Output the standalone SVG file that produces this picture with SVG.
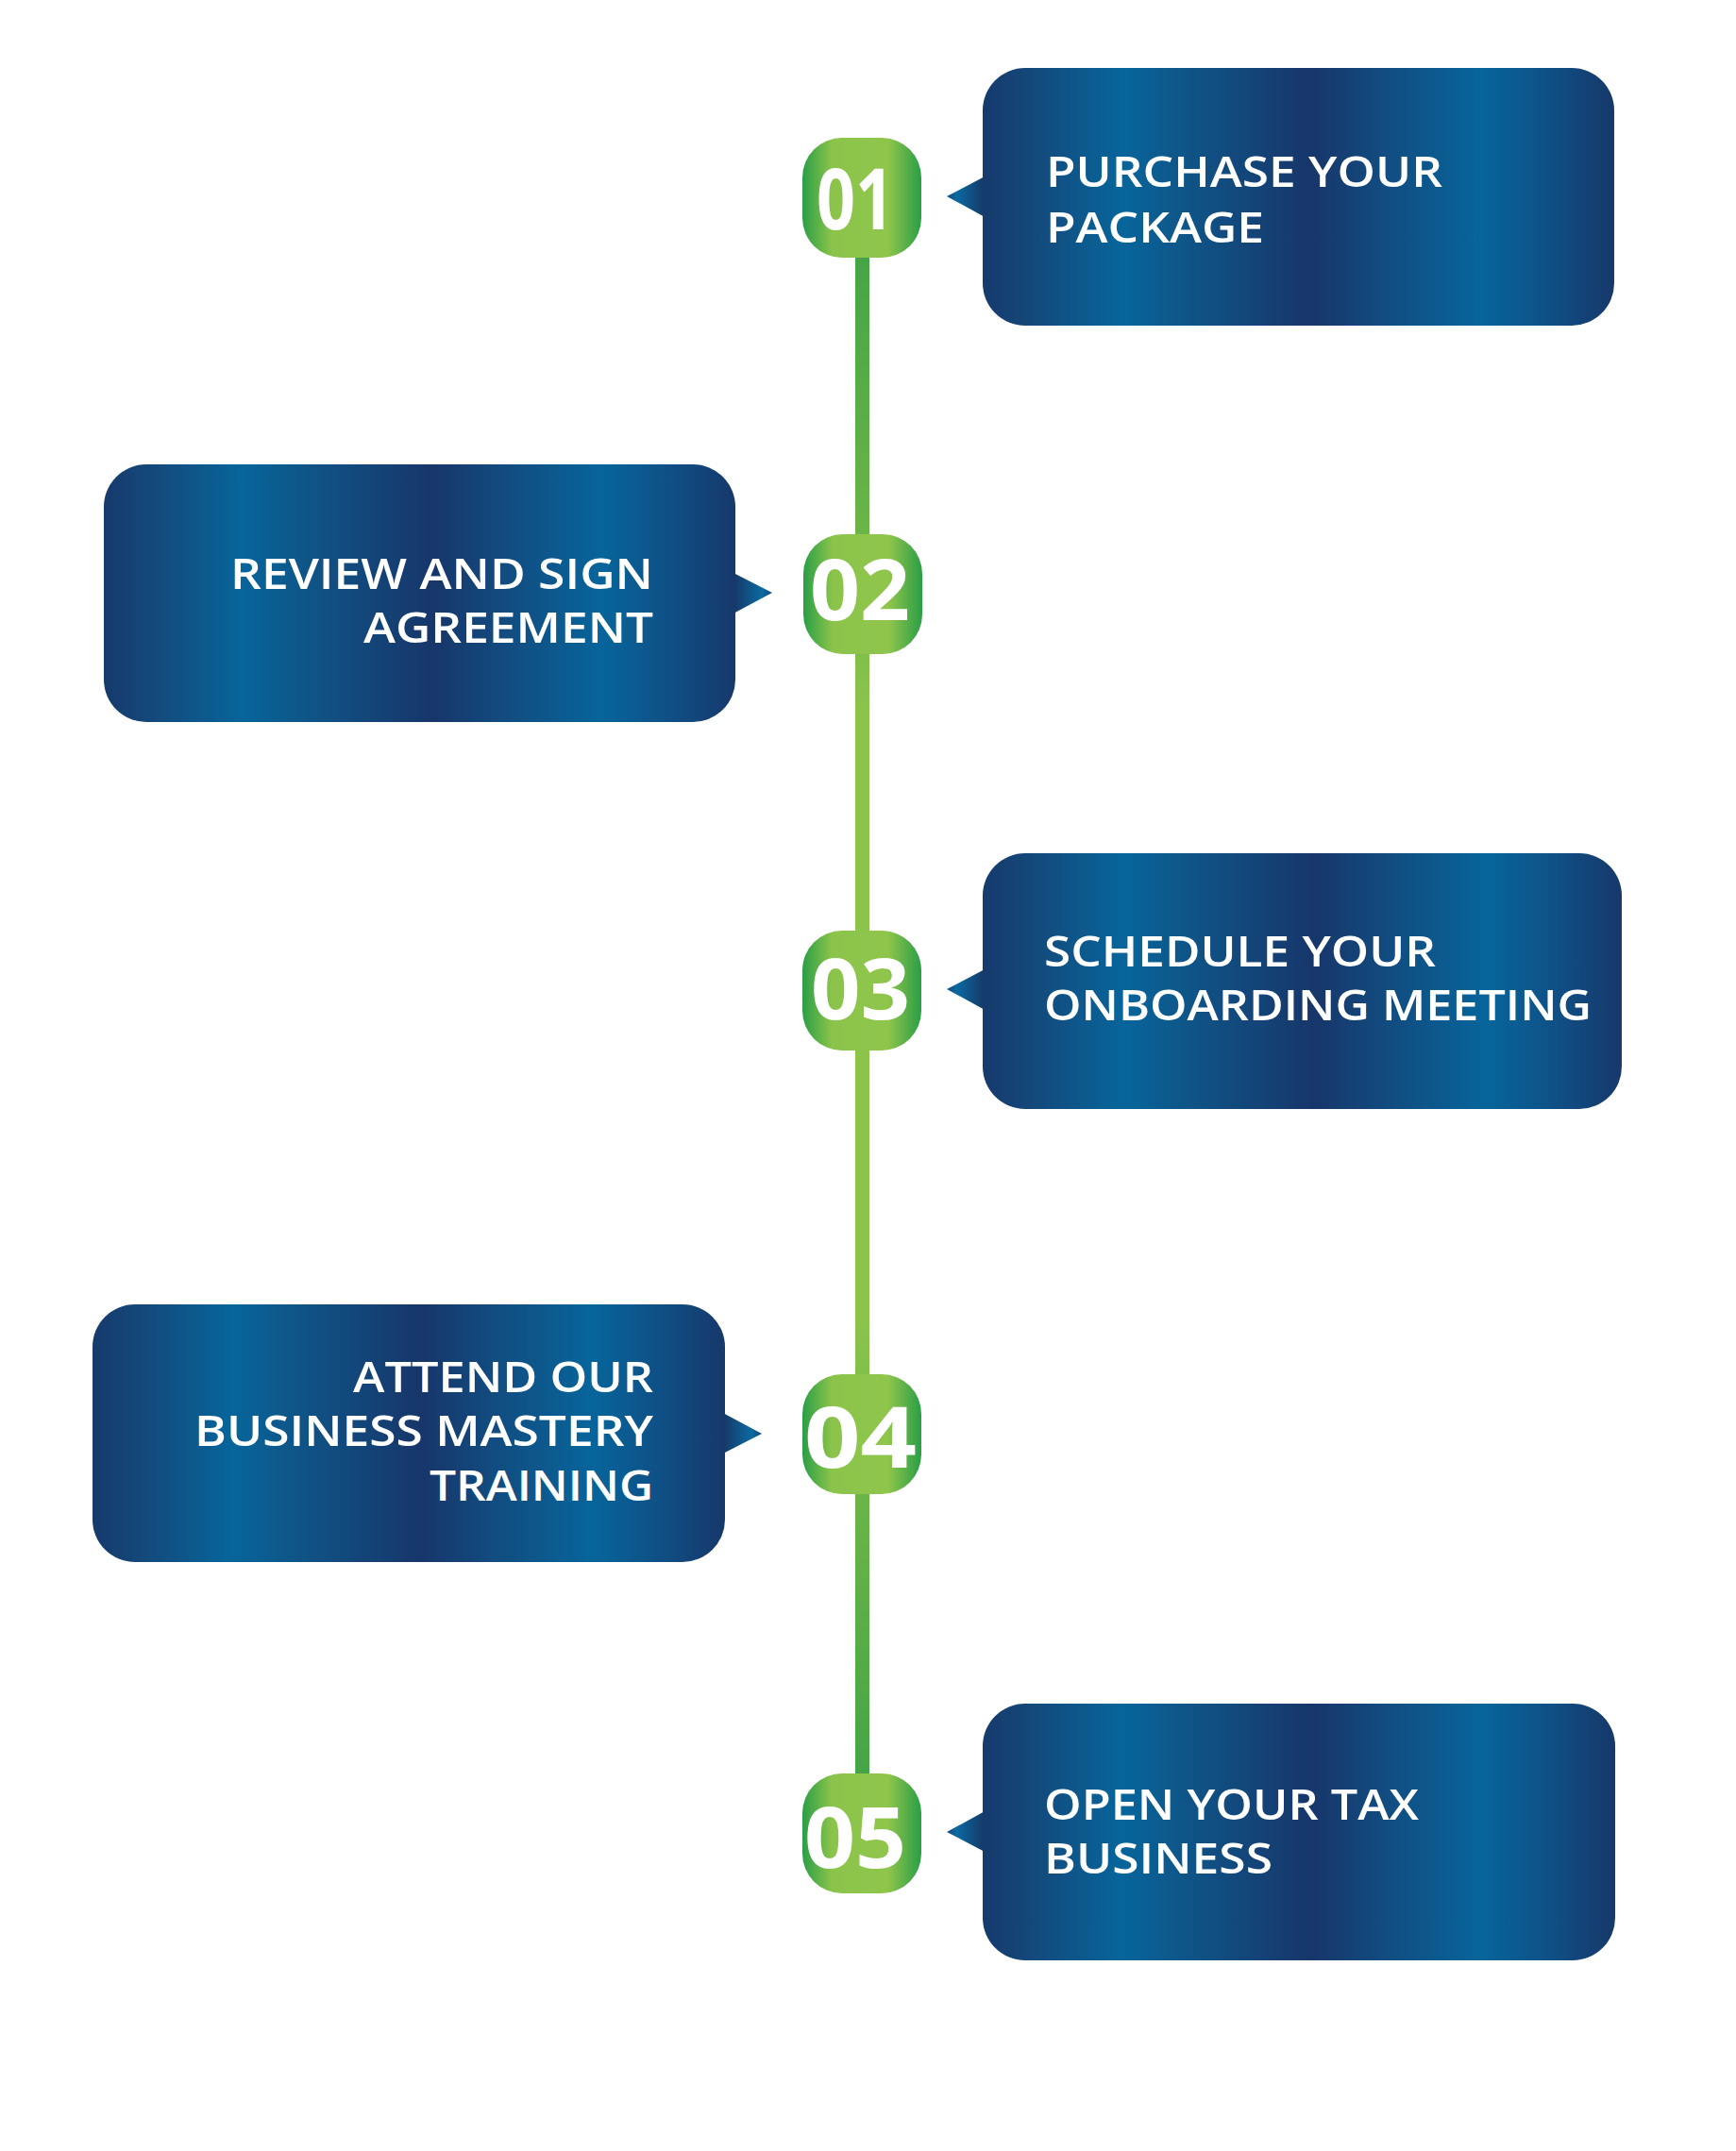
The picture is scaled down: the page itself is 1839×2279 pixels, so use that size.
<svg xmlns="http://www.w3.org/2000/svg" width="1839" height="2279" viewBox="0 0 1839 2279">
<defs>
<linearGradient id="boxGrad" x1="0" y1="0" x2="1" y2="0">
<stop offset="0" stop-color="#163a6c"/>
<stop offset="0.08" stop-color="#14497b"/>
<stop offset="0.22" stop-color="#07659b"/>
<stop offset="0.32" stop-color="#0f5588"/>
<stop offset="0.52" stop-color="#17366a"/>
<stop offset="0.63" stop-color="#124b7f"/>
<stop offset="0.79" stop-color="#07659b"/>
<stop offset="0.9" stop-color="#0f4f85"/>
<stop offset="1" stop-color="#17386a"/>
</linearGradient>
<linearGradient id="ptrR" x1="0" y1="0" x2="1" y2="0">
<stop offset="0" stop-color="#173563"/>
<stop offset="0.75" stop-color="#0a6aa1"/>
<stop offset="1" stop-color="#14497b"/>
</linearGradient>
<linearGradient id="ptrL" x1="1" y1="0" x2="0" y2="0">
<stop offset="0" stop-color="#173563"/>
<stop offset="0.75" stop-color="#0a6aa1"/>
<stop offset="1" stop-color="#14497b"/>
</linearGradient>
<linearGradient id="badgeGrad" x1="0" y1="0" x2="1" y2="0">
<stop offset="0" stop-color="#2a9e46"/>
<stop offset="0.25" stop-color="#8cc44b"/>
<stop offset="0.72" stop-color="#8fc54b"/>
<stop offset="1" stop-color="#2a9e46"/>
</linearGradient>
<linearGradient id="lineGrad" gradientUnits="userSpaceOnUse" x1="0" y1="272" x2="0" y2="1879">
<stop offset="0" stop-color="#45a546"/>
<stop offset="0.18" stop-color="#6ab546"/>
<stop offset="0.3" stop-color="#8cc44b"/>
<stop offset="0.7" stop-color="#8cc44b"/>
<stop offset="0.82" stop-color="#6ab546"/>
<stop offset="1" stop-color="#45a546"/>
</linearGradient>
</defs>
<style>
.box{fill:url(#boxGrad);}
.lbl{font-family:"Open Sans","Liberation Sans",sans-serif;font-weight:600;font-size:46px;fill:#ffffff;}
.num{font-family:"Open Sans","Liberation Sans",sans-serif;font-weight:700;font-size:90px;fill:#ffffff;}
.badge{fill:url(#badgeGrad);}
</style>
<rect width="1839" height="2279" fill="#ffffff"/>
<g id="connectors">
<rect x="906" y="260" width="15" height="1630" fill="url(#lineGrad)"/>
</g>
<g id="step-1">
<polygon points="1045,186 1003,208 1045,231" fill="url(#ptrL)"/>
<rect class="box" x="1041" y="72" width="669" height="273" rx="45" ry="45"/>
<text class="lbl" x="1108" y="198" textLength="420" lengthAdjust="spacingAndGlyphs">PURCHASE YOUR</text>
<text class="lbl" x="1108" y="257" textLength="231" lengthAdjust="spacingAndGlyphs">PACKAGE</text>
</g>
<g id="step-2">
<polygon points="775,606 818,628 775,651" fill="url(#ptrR)"/>
<rect class="box" x="110" y="492" width="669" height="273" rx="45" ry="45"/>
<text class="lbl" x="244" y="624" textLength="448" lengthAdjust="spacingAndGlyphs">REVIEW AND SIGN</text>
<text class="lbl" x="385" y="681" textLength="307" lengthAdjust="spacingAndGlyphs">AGREEMENT</text>
</g>
<g id="step-3">
<polygon points="1045,1026 1003,1048 1045,1071" fill="url(#ptrL)"/>
<rect class="box" x="1041" y="904" width="677" height="271" rx="45" ry="45"/>
<text class="lbl" x="1106" y="1024" textLength="415" lengthAdjust="spacingAndGlyphs">SCHEDULE YOUR</text>
<text class="lbl" x="1106" y="1081" textLength="580" lengthAdjust="spacingAndGlyphs">ONBOARDING MEETING</text>
</g>
<g id="step-4">
<polygon points="764,1496 807,1519 764,1541" fill="url(#ptrR)"/>
<rect class="box" x="98" y="1382" width="670" height="273" rx="45" ry="45"/>
<text class="lbl" x="374" y="1475" textLength="318" lengthAdjust="spacingAndGlyphs">ATTEND OUR</text>
<text class="lbl" x="206" y="1532" textLength="486" lengthAdjust="spacingAndGlyphs">BUSINESS MASTERY</text>
<text class="lbl" x="455" y="1590" textLength="237" lengthAdjust="spacingAndGlyphs">TRAINING</text>
</g>
<g id="step-5">
<polygon points="1045,1918 1003,1941 1045,1963" fill="url(#ptrL)"/>
<rect class="box" x="1041" y="1805" width="670" height="272" rx="45" ry="45"/>
<text class="lbl" x="1106" y="1928" textLength="397" lengthAdjust="spacingAndGlyphs">OPEN YOUR TAX</text>
<text class="lbl" x="1106" y="1985" textLength="242" lengthAdjust="spacingAndGlyphs">BUSINESS</text>
</g>
<g id="badge-1">
<rect class="badge" x="850" y="146" width="126" height="127" rx="42" ry="42"/>
<text class="num" x="865" y="243" textLength="82" lengthAdjust="spacingAndGlyphs">01</text>
</g>
<g id="badge-2">
<rect class="badge" x="851" y="566" width="126" height="127" rx="42" ry="42"/>
<text class="num" x="858" y="657" textLength="106" lengthAdjust="spacingAndGlyphs">02</text>
</g>
<g id="badge-3">
<rect class="badge" x="850" y="986" width="126" height="127" rx="42" ry="42"/>
<text class="num" x="859" y="1080" textLength="105" lengthAdjust="spacingAndGlyphs">03</text>
</g>
<g id="badge-4">
<rect class="badge" x="850" y="1456" width="126" height="127" rx="42" ry="42"/>
<text class="num" x="852" y="1555" textLength="119" lengthAdjust="spacingAndGlyphs">04</text>
</g>
<g id="badge-5">
<rect class="badge" x="850" y="1879" width="126" height="127" rx="42" ry="42"/>
<text class="num" x="852" y="1979" textLength="108" lengthAdjust="spacingAndGlyphs">05</text>
</g>
</svg>
